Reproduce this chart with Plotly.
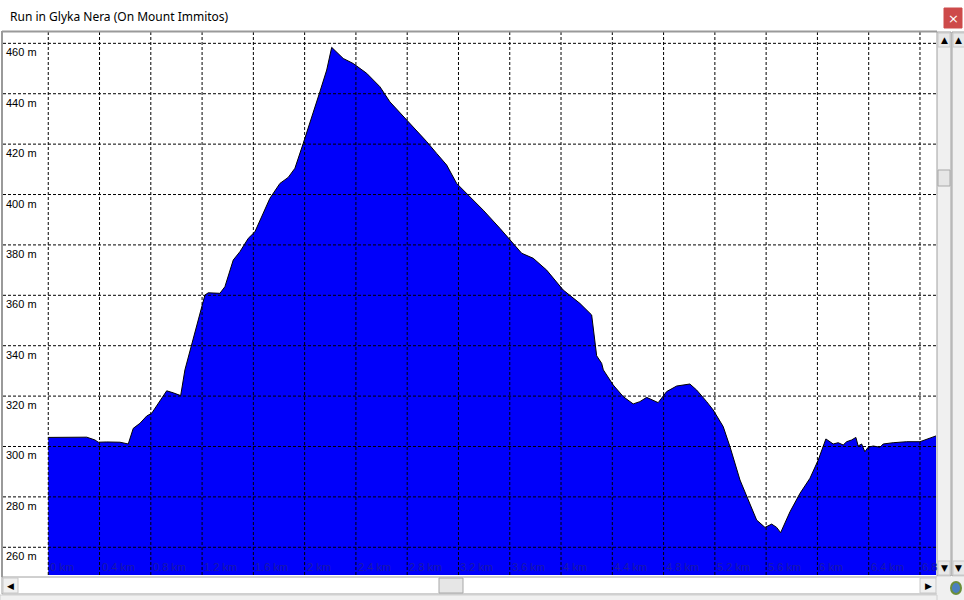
import plotly.graph_objects as go

# elevation profile
dist_km = [0.0, 0.30, 0.364, 0.39, 0.456, 0.559, 0.624, 0.663, 0.715, 0.768,
           0.807, 0.858, 0.924, 0.975, 1.033, 1.066, 1.119, 1.170, 1.222, 1.248,
           1.339, 1.378, 1.443, 1.495, 1.560, 1.612, 1.729, 1.807, 1.872, 1.924,
           1.989, 2.067, 2.119, 2.172, 2.211, 2.301, 2.379, 2.484, 2.587, 2.665,
           2.796, 2.860, 2.952, 3.030, 3.108, 3.186, 3.264, 3.393, 3.523, 3.601,
           3.693, 3.783, 3.888, 4.017, 4.147, 4.239, 4.251, 4.278, 4.317, 4.330,
           4.407, 4.485, 4.563, 4.615, 4.668, 4.707, 4.758, 4.824, 4.902, 5.005,
           5.058, 5.136, 5.187, 5.265, 5.318, 5.396, 5.474, 5.526, 5.591, 5.643,
           5.682, 5.713, 5.786, 5.864, 5.942, 6.006, 6.066, 6.123, 6.162, 6.201,
           6.228, 6.267, 6.300, 6.318, 6.345, 6.370, 6.396, 6.435, 6.488, 6.513,
           6.591, 6.696, 6.800, 6.903, 6.925]
elev_m = [303.6, 303.7, 302.6, 301.7, 301.8, 301.7, 301.0, 307.2, 309.2, 312.1,
          313.2, 317.1, 322.1, 321.3, 320.2, 330.4, 341.0, 350.2, 360.1, 361.0,
          360.8, 363.4, 374.0, 377.3, 382.6, 385.2, 398.5, 404.4, 406.8, 410.4,
          420.3, 432.2, 440.8, 449.4, 458.4, 454.0, 452.0, 448.1, 442.8, 436.8,
          429.6, 426.3, 421.0, 416.3, 411.7, 404.4, 400.5, 393.8, 386.6, 381.9,
          376.7, 374.7, 370.0, 362.1, 356.8, 352.2, 347.5, 336.0, 333.0, 330.4,
          324.4, 319.8, 316.9, 317.8, 319.5, 318.5, 317.4, 321.8, 324.0, 324.8,
          322.4, 317.8, 314.5, 307.9, 299.9, 286.7, 276.8, 270.8, 267.9, 269.2,
          267.9, 265.8, 274.1, 281.4, 287.4, 294.6, 303.0, 301.0, 301.5, 300.6,
          301.9, 302.6, 303.6, 300.2, 301.0, 297.9, 299.7, 300.2, 299.7, 301.0,
          301.5, 301.9, 301.9, 303.6, 304.2]

x_ticks = [0, 0.4, 0.8, 1.2, 1.6, 2, 2.4, 2.8, 3.2, 3.6, 4, 4.4, 4.8, 5.2, 5.6,
           6, 6.4, 6.8]
x_labels = ["0 km", "0.4 km", "0.8 km", "1.2 km", "1.6 km", "2 km", "2.4 km",
            "2.8 km", "3.2 km", "3.6 km", "4 km", "4.4 km", "4.8 km", "5.2 km",
            "5.6 km", "6 km", "6.4 km", "6.8"]
y_ticks = [260, 280, 300, 320, 340, 360, 380, 400, 420, 440, 460]
y_labels = ["260 m", "280 m", "300 m", "320 m", "340 m", "360 m", "380 m",
            "400 m", "420 m", "440 m", "460 m"]

W, H = 964, 600
L, R, T, B = 3, 936, 32, 575  # plot area in pixels


def px(x):
    return (x - L) / (R - L)


def py(y):
    return (B - y) / (B - T)


def box(x0, y0, x1, y1, fill, line="#a0a0a0"):
    return dict(type="rect", xref="paper", yref="paper", layer="above",
                x0=px(x0), x1=px(x1), y0=py(y0), y1=py(y1),
                fillcolor=fill, line=dict(color=line, width=1))


fig = go.Figure()
fig.add_trace(go.Scatter(x=dist_km, y=elev_m, mode="lines", fill="tozeroy",
                         fillcolor="#0000fa", line=dict(color="#000000", width=1),
                         hoverinfo="x+y"))

shapes = []
dash = dict(color="#000000", width=1, dash="3px,2px")
for v in x_ticks:
    shapes.append(dict(type="line", xref="x", yref="paper", x0=v, x1=v,
                       y0=0, y1=1, line=dash, layer="above"))
for v in y_ticks:
    shapes.append(dict(type="line", xref="paper", yref="y", x0=0, x1=1,
                       y0=v, y1=v, line=dash, layer="above"))

# window chrome
shapes += [
    dict(type="line", xref="paper", yref="paper", x0=px(2), x1=px(937),
         y0=py(31.5), y1=py(31.5), line=dict(color="#9a9a9a", width=2)),
    dict(type="line", xref="paper", yref="paper", x0=px(2), x1=px(2),
         y0=py(31), y1=py(577), line=dict(color="#9a9a9a", width=2)),
    box(944, 8, 962, 28, "#cd4a4a", "#cd4a4a"),
    # vertical scrollbars
    box(937, 32, 951, 576, "#f0f0f0"),
    box(938, 33, 950, 47, "#e8e8e8", "#c8c8c8"),
    box(938, 561, 950, 575, "#e8e8e8", "#c8c8c8"),
    box(938, 170, 950, 186, "#e6e6e6", "#a8a8a8"),
    box(952, 32, 966, 576, "#f0f0f0"),
    box(953, 33, 966, 47, "#e8e8e8", "#c8c8c8"),
    box(953, 561, 966, 575, "#e8e8e8", "#c8c8c8"),
    # horizontal scrollbar
    box(2, 577, 937, 594, "#ffffff"),
    box(3, 578, 18, 593, "#f0f0f0", "#c8c8c8"),
    box(920, 578, 936, 593, "#f0f0f0", "#c8c8c8"),
    box(439, 578, 463, 593, "#e6e6e6", "#a8a8a8"),
    box(937, 577, 966, 600, "#f0f0f0", "#f0f0f0"),
    box(0, 595, 937, 601, "#f0f0f0", "#d0d0d0"),
    dict(type="circle", xref="paper", yref="paper", layer="above",
         x0=px(951), x1=px(961), y0=py(582), y1=py(594),
         fillcolor="#4a7fc0", line=dict(color="#6b8e3a", width=2)),
]

annotations = []
for v, t in zip(y_ticks, y_labels):
    annotations.append(dict(text=t, xref="paper", yref="y", x=px(4), y=v,
                            xanchor="left", yanchor="top", yshift=-1,
                            showarrow=False,
                            font=dict(family="Liberation Sans", size=11,
                                      color="#000000")))
for v, t in zip(x_ticks, x_labels):
    annotations.append(dict(text=t, xref="x", yref="paper", x=v, y=0,
                            xanchor="left", yanchor="bottom", xshift=0,
                            yshift=0, showarrow=False,
                            font=dict(family="Liberation Sans", size=11,
                                      color="#1818a8")))
annotations += [
    dict(text="Run in Glyka Nera (On Mount Immitos)", xref="paper",
         yref="paper", x=px(8), y=py(16), xanchor="left", yanchor="middle",
         showarrow=False, font=dict(family="Noto Sans", size=12,
                                    color="#000000")),
    dict(text="×", xref="paper", yref="paper", x=px(953), y=py(18),
         xanchor="center", yanchor="middle", showarrow=False,
         font=dict(family="DejaVu Sans", size=13, color="#ffffff")),
]
for xc, yc, t in [(944, 40, "▲"), (944, 568, "▼"), (959, 40, "▲"),
                  (959, 568, "▼"), (10.5, 585.5, "◀"), (928, 585.5, "▶")]:
    annotations.append(dict(text=t, xref="paper", yref="paper", x=px(xc),
                            y=py(yc), xanchor="center", yanchor="middle",
                            showarrow=False,
                            font=dict(family="DejaVu Sans", size=9,
                                      color="#000000")))

fig.update_layout(
    width=W, height=H,
    margin=dict(l=L, r=W - R, t=T, b=H - B, pad=0),
    paper_bgcolor="#ffffff",
    plot_bgcolor="#ffffff",
    showlegend=False,
    xaxis=dict(range=[-0.353, 6.925], showgrid=False, zeroline=False,
               showticklabels=False, ticks="", fixedrange=True),
    yaxis=dict(range=[249.0, 464.5], showgrid=False, zeroline=False,
               showticklabels=False, ticks="", fixedrange=True),
    shapes=shapes,
    annotations=annotations,
)

# the page's default body margin would push the figure 8px off
fig.write_html(
    "out.html",
    config={"displayModeBar": False},
    post_script="document.body.style.margin='0';"
                "document.body.style.overflow='hidden';",
)
